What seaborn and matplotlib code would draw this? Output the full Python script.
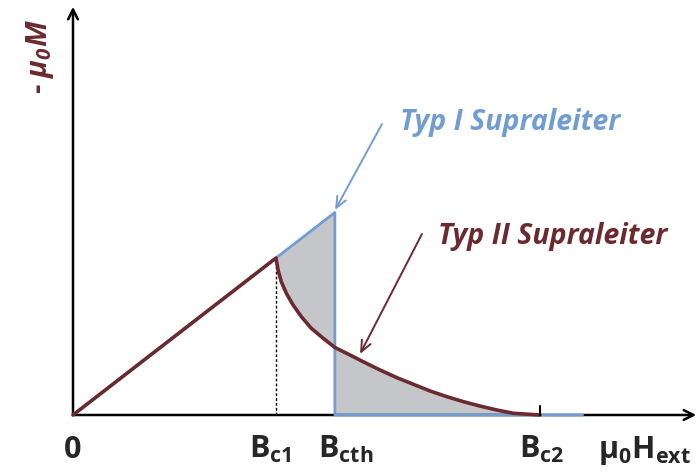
import numpy as np
import pandas as pd
import seaborn as sns
import matplotlib
matplotlib.use("Agg")
import matplotlib.pyplot as plt

# Field values (in units of B_c1) and magnetisation (in units of -mu0*M at B_c1)
B_c1 = 1.0
B_cth = 1.29
B_c2 = 2.30

# Meissner branch shared by both types
h_meissner = [0.0, 1.0]
m_meissner = [0.0, 1.0]

# Type I: linear up to B_cth, then drops to zero
h_type1 = [0.0, 1.29, 1.29, 2.51]
m_type1 = [0.0, 1.29, 0.0, 0.0]

# Type II: Shubnikov phase between B_c1 and B_c2
h_type2 = [1.000, 1.010, 1.026, 1.051, 1.084, 1.125, 1.174, 1.232, 1.290, 1.365, 1.430,
           1.512, 1.595, 1.676, 1.759, 1.841, 1.923, 2.005, 2.087, 2.169, 2.300]
m_type2 = [1.000, 0.924, 0.849, 0.775, 0.701, 0.626, 0.552, 0.489, 0.430, 0.382, 0.339,
           0.287, 0.238, 0.196, 0.153, 0.117, 0.085, 0.057, 0.032, 0.011, 0.000]

BLUE = "#719dd2"
RED = "#6a2a30"
GREY = "#c4c6ca"

sns.set_style("white")
plt.rcParams["font.family"] = ["Open Sans", "DejaVu Sans"]
plt.rcParams["mathtext.fontset"] = "custom"
plt.rcParams["mathtext.rm"] = "Open Sans"
plt.rcParams["mathtext.bf"] = "Open Sans:bold"
plt.rcParams["mathtext.it"] = "Open Sans:italic"
plt.rcParams["mathtext.bfit"] = "Open Sans:bold:italic"

fig = plt.figure(figsize=(6.98, 4.73), dpi=100)
ax = fig.add_axes([0, 0, 1, 1])
ax.set_xlim(-73 / 203, 625 / 203)
ax.set_ylim(-58 / 157, 415 / 157)
ax.axis("off")

# shaded area between the two curves
hh = np.linspace(B_c1, B_c2, 400)
m2 = np.interp(hh, h_type2, m_type2)
upper = np.where(hh <= B_cth, hh, m2)
lower = np.where(hh <= B_cth, m2, 0.0)
ax.fill_between(hh, lower, upper, color=GREY, lw=0, zorder=1)

# axes with arrows
arrow_kw = dict(arrowstyle="->,head_length=0.7,head_width=0.35", lw=1.8, color="black",
                shrinkA=0, shrinkB=0)
ax.annotate("", xy=(0, 2.60), xytext=(0, 0), arrowprops=arrow_kw, zorder=3)
ax.annotate("", xy=(3.07, 0), xytext=(0, 0), arrowprops=arrow_kw, zorder=3)

# Type I curve
df1 = pd.DataFrame({"h": h_type1, "m": m_type1})
sns.lineplot(data=df1, x="h", y="m", sort=False, estimator=None, color=BLUE, lw=2.0,
             ax=ax, zorder=4)

# Type II curve (Meissner branch + mixed state)
df2 = pd.DataFrame({"h": h_meissner + h_type2[1:], "m": m_meissner + m_type2[1:]})
sns.lineplot(data=df2, x="h", y="m", sort=False, estimator=None, color=RED, lw=2.6,
             ax=ax, zorder=5)

# B_c1 guide and B_c2 tick
ax.plot([B_c1, B_c1], [0, 1.0], ls=(0, (2, 1.5)), color="black", lw=1.0, zorder=2)
ax.plot([B_c2, B_c2], [0, 0.055], color="black", lw=1.5, zorder=6)

# tick labels
lab_y = -43 / 157
fs = 22
ax.text(0.0, lab_y, "0", ha="center", va="baseline", fontsize=fs, fontweight="bold")
ax.text(0.973, lab_y, r"$\mathbf{B}_{\mathbf{c1}}$", ha="center", va="baseline", fontsize=fs)
ax.text(1.345, lab_y, r"$\mathbf{B}_{\mathbf{cth}}$", ha="center", va="baseline", fontsize=fs)
ax.text(2.308, lab_y, r"$\mathbf{B}_{\mathbf{c2}}$", ha="center", va="baseline", fontsize=fs)
ax.text(2.813, lab_y, r"$\mathbf{µ}_{\mathbf{0}}\mathbf{H}_{\mathbf{ext}}$", ha="center",
        va="baseline", fontsize=fs)

# axis label
ax.text(-0.165, 2.28, r"- $\mathbfit{µ}_{\mathbfit{0}}\mathbfit{M}$", rotation=90,
        ha="center", va="center", fontsize=21, fontweight="bold", color=RED)

# annotations
ax.annotate("", xy=(1.291, 1.306), xytext=(1.522, 1.853),
            arrowprops=dict(arrowstyle="->,head_length=0.8,head_width=0.35", lw=1.4, color=BLUE,
                            shrinkA=0, shrinkB=0), zorder=7)
ax.text(1.611, 1.86, "Typ I Supraleiter", ha="left", va="center", fontsize=20.5,
        fontweight="bold", fontstyle="italic", color=BLUE)

ax.annotate("", xy=(1.414, 0.389), xytext=(1.719, 1.153),
            arrowprops=dict(arrowstyle="->,head_length=0.8,head_width=0.35", lw=1.4, color=RED,
                            shrinkA=0, shrinkB=0), zorder=7)
ax.text(1.798, 1.134, "Typ II Supraleiter", ha="left", va="center", fontsize=20.5,
        fontweight="bold", fontstyle="italic", color=RED)

fig.savefig("out.png", dpi=100)
